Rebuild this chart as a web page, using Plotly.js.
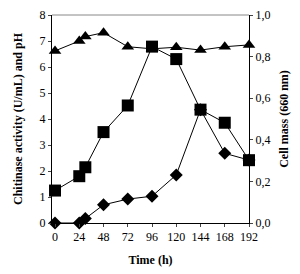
<!DOCTYPE html>
<html><head><meta charset="utf-8">
<script src="https://cdn.plot.ly/plotly-3.0.1.min.js"></script>
<style>html,body{margin:0;padding:0;background:#fff}#c{width:300px;height:274px}</style>
</head><body><div id="c"></div>
<script>
const time = [0, 24, 30, 48, 72, 96, 120, 144, 168, 192];
const pH = [6.62, 7.0, 7.17, 7.32, 6.78, 6.7, 6.76, 6.65, 6.78, 6.85];
const chitinase = [0, 0, 0.17, 0.7, 0.92, 1.03, 1.85, 4.36, 2.68, 2.42];
const cellMass = [0.156, 0.225, 0.268, 0.437, 0.565, 0.848, 0.788, 0.545, 0.482, 0.302];
const xTicks = [0, 24, 48, 72, 96, 120, 144, 168, 192];

const F = 'Liberation Serif, Times New Roman, serif';
const line = {color: '#000', width: 1};
const traces = [
  {x: time, y: pH, mode: 'lines+markers', line: line, cliponaxis: false,
   marker: {symbol: 'triangle-up', size: 11, color: '#000'}},
  {x: time, y: chitinase, mode: 'lines+markers', line: line, cliponaxis: false,
   marker: {symbol: 'diamond', size: 10, color: '#000'}},
  {x: time, y: cellMass, yaxis: 'y2', mode: 'lines+markers', line: line, cliponaxis: false,
   marker: {symbol: 'square', size: 12, color: '#000'}}
];
const layout = {
  width: 300, height: 274,
  margin: {l: 52, r: 51, t: 15, b: 51},
  showlegend: false,
  separators: ', ',
  paper_bgcolor: '#fff', plot_bgcolor: '#fff',
  font: {family: F, size: 12, color: '#000'},
  xaxis: {range: [-3, 192], tickvals: xTicks, ticks: 'outside', ticklen: 3,
          showgrid: false, zeroline: false, showline: true, linecolor: '#000', linewidth: 1,
          tickfont: {family: F, size: 12},
          title: {text: '<b>Time (h)</b>', font: {family: F, size: 12}, standoff: 12}},
  yaxis: {range: [0, 8], dtick: 1, ticks: 'outside', ticklen: 3,
          showgrid: false, zeroline: false, showline: true, linecolor: '#000', linewidth: 1,
          tickfont: {family: F, size: 12},
          title: {text: '<b>Chitinase activity (U/mL) and pH</b>', font: {family: F, size: 12}, standoff: 14}},
  yaxis2: {range: [0, 1], dtick: 0.2, tickformat: '.1f', overlaying: 'y', side: 'right',
           ticks: 'outside', ticklen: 3, showgrid: false, zeroline: false,
           showline: true, linecolor: '#000', linewidth: 1,
           tickfont: {family: F, size: 12},
           title: {text: '<b>Cell mass (660 nm)</b>', font: {family: F, size: 12}, standoff: 10}},
  yaxis3: {range: [0, 1], dtick: 0.2, overlaying: 'y', side: 'right', anchor: 'x',
           ticks: 'inside', ticklen: 3, showticklabels: false, showgrid: false, zeroline: false,
           showline: false},
  shapes: [{type: 'line', xref: 'paper', yref: 'paper', x0: 0, x1: 1, y0: 1, y1: 1,
            line: {color: '#888', width: 1}}]
};
Plotly.newPlot('c', traces, layout, {displayModeBar: false, staticPlot: true});
</script></body></html>
